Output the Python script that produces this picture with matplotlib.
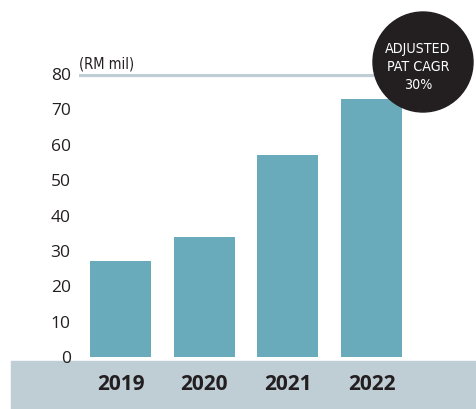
import matplotlib
matplotlib.use('Agg')
import matplotlib.pyplot as plt
from matplotlib.patches import Rectangle, Ellipse

# adjusted PAT by financial year
years = ['2019', '2020', '2021', '2022']
pat = [27, 34, 57, 73]
yticks = [0, 10, 20, 30, 40, 50, 60, 70, 80]

BAR = '#6aabbb'
BAND = '#bfcdd5'
INK = '#231f20'

W, H = 476, 409
fig = plt.figure(figsize=(W / 100, H / 100), dpi=100)
fig.patch.set_facecolor('white')

# grey band behind the year labels
fig.patches.append(Rectangle((11 / W, 0), 1 - 11 / W, 48 / H,
                             transform=fig.transFigure, color=BAND, zorder=-1))

ax = fig.add_axes([79 / W, 52 / H, 1 - 79 / W, 283 / H])
ax.set_zorder(2)
ax.set_facecolor('none')
x = range(len(years))
ax.bar(x, pat, width=0.73, color=BAR, zorder=2)
ax.axhline(80, xmin=0, xmax=0.8, color=BAND, lw=3.8, zorder=1)

ax.set_xlim(-0.496, 4.247)
ax.set_ylim(0, 80)
ax.set_yticks(yticks)
ax.set_yticklabels([str(v) for v in yticks], family='Open Sans', fontsize=12.5, color=INK)
ax.tick_params(axis='y', length=0, pad=6)
ax.set_xticks(list(x))
ax.set_xticklabels(years, family='Open Sans', fontweight='bold', fontsize=15, color=INK)
ax.tick_params(axis='x', length=0, pad=12)
for s in ax.spines.values():
    s.set_visible(False)

ax.text(0, 1.01, '(RM mil)', transform=ax.transAxes, ha='left', va='bottom',
        family='DejaVu Sans', stretch='condensed', fontsize=10.5, color=INK)

# CAGR badge
fig.patches.append(Ellipse((423 / W, 1 - 62 / H), 100 / W, 100 / H,
                           transform=fig.transFigure, color=INK, zorder=5))
fig.text(418 / W, 1 - 67 / H, 'ADJUSTED\nPAT CAGR\n30%', ha='center', va='center',
         family='DejaVu Sans', stretch='condensed', fontsize=10.2,
         color='white', linespacing=1.4, zorder=6)

fig.savefig('out.png', dpi=100)
